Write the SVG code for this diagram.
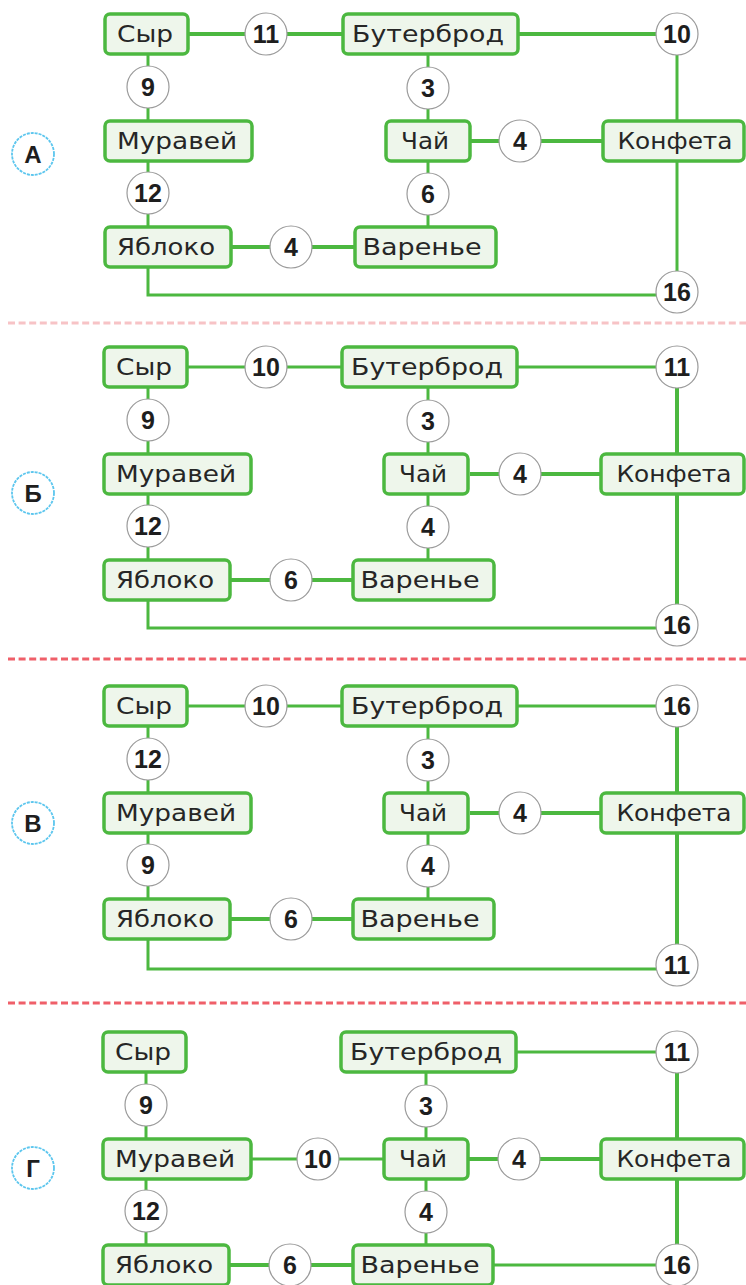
<svg xmlns="http://www.w3.org/2000/svg" width="746" height="1285" viewBox="0 0 746 1285">
<style>
.bg{fill:#ffffff}
.node rect{fill:#eef6eb;stroke:#4cb840;stroke-width:3.5}
.node text{font-family:"DejaVu Sans","Liberation Sans",sans-serif;font-size:22.5px;fill:#262626;text-anchor:middle}
.conn line,.conn path{stroke:#4cb840;stroke-width:3;fill:none}
.conn .thick{stroke-width:4}
.w circle{fill:#ffffff;stroke:#9a9a9a;stroke-width:1.2}
.w text{font-family:"Liberation Sans",Arial,sans-serif;font-weight:bold;font-size:25px;fill:#1e1e1e;text-anchor:middle}
.lab circle{fill:#ffffff;stroke:#5cc6ee;stroke-width:1.8;stroke-dasharray:3 1}
.lab text{font-family:"Liberation Sans",Arial,sans-serif;font-weight:bold;font-size:24px;fill:#1e1e1e;text-anchor:middle}
.sep{stroke-width:3;stroke-dasharray:7 3.6;fill:none}
</style>
<rect class="bg" x="0" y="0" width="746" height="1285"/>

<g id="separators">
<line class="sep" x1="8" y1="323" x2="746" y2="323" stroke="#f7c3c6"/>
<line class="sep" x1="8" y1="659" x2="746" y2="659" stroke="#ef5f69"/>
<line class="sep" x1="8" y1="1003" x2="746" y2="1003" stroke="#ef5f69"/>
</g>

<!-- ===== Section A ===== -->
<g id="section-A">
<g id="A-label" class="lab"><circle cx="33" cy="154" r="21"/><text x="33" y="163">А</text></g>
<g id="A-connectors" class="conn">
<line class="thick" x1="188" y1="34" x2="343" y2="34"/>
<line class="thick" x1="518" y1="34" x2="677" y2="34"/>
<line x1="677" y1="34" x2="677" y2="121"/>
<line x1="677" y1="161" x2="677" y2="292"/>
<line x1="148" y1="54" x2="148" y2="121"/>
<line x1="148" y1="161" x2="148" y2="227"/>
<path d="M148 267 V295 H677"/>
<line class="thick" x1="231" y1="247" x2="355" y2="247"/>
<line x1="428" y1="54" x2="428" y2="121"/>
<line x1="428" y1="161" x2="428" y2="227"/>
<line class="thick" x1="470" y1="141" x2="603" y2="141"/>
<g class="w">
<circle cx="266" cy="34" r="21"/><text x="266" y="43">11</text>
<circle cx="677" cy="34" r="21"/><text x="677" y="43">10</text>
<circle cx="148" cy="87" r="21"/><text x="148" y="96">9</text>
<circle cx="148" cy="193" r="21"/><text x="148" y="202">12</text>
<circle cx="291" cy="247" r="21"/><text x="291" y="256">4</text>
<circle cx="428" cy="88" r="21"/><text x="428" y="97">3</text>
<circle cx="520" cy="141" r="21"/><text x="520" y="150">4</text>
<circle cx="428" cy="194" r="21"/><text x="428" y="203">6</text>
<circle cx="677" cy="292" r="21"/><text x="677" y="301">16</text>
</g>
</g>
<g id="A-syr" class="node"><rect x="105" y="14" width="83" height="40" rx="5"/><text x="145" y="42" textLength="56" lengthAdjust="spacingAndGlyphs">Сыр</text></g>
<g id="A-buterbrod" class="node"><rect x="343" y="14" width="175" height="40" rx="5"/><text x="428" y="42" textLength="152" lengthAdjust="spacingAndGlyphs">Бутерброд</text></g>
<g id="A-muravey" class="node"><rect x="105" y="121" width="147" height="40" rx="5"/><text x="177" y="149" textLength="120" lengthAdjust="spacingAndGlyphs">Муравей</text></g>
<g id="A-chay" class="node"><rect x="386" y="121" width="84" height="40" rx="5"/><text x="425" y="149" textLength="48" lengthAdjust="spacingAndGlyphs">Чай</text></g>
<g id="A-konfeta" class="node"><rect x="603" y="121" width="141" height="40" rx="5"/><text x="675" y="149" textLength="115" lengthAdjust="spacingAndGlyphs">Конфета</text></g>
<g id="A-yabloko" class="node"><rect x="105" y="227" width="126" height="40" rx="5"/><text x="166" y="255" textLength="98" lengthAdjust="spacingAndGlyphs">Яблоко</text></g>
<g id="A-varenye" class="node"><rect x="355" y="227" width="141" height="40" rx="5"/><text x="422" y="255" textLength="119" lengthAdjust="spacingAndGlyphs">Варенье</text></g>
</g>

<!-- ===== Section Б ===== -->
<g id="section-B" transform="translate(0,333)">
<g id="B-label" class="lab"><circle cx="33" cy="160" r="21"/><text x="33" y="169">Б</text></g>
<g id="B-connectors" class="conn">
<line x1="188" y1="34" x2="343" y2="34"/>
<line x1="518" y1="34" x2="677" y2="34"/>
<line class="thick" x1="677" y1="34" x2="677" y2="121"/>
<line class="thick" x1="677" y1="161" x2="677" y2="292"/>
<line x1="148" y1="54" x2="148" y2="121"/>
<line x1="148" y1="161" x2="148" y2="227"/>
<path d="M148 267 V295 H677"/>
<line class="thick" x1="231" y1="247" x2="355" y2="247"/>
<line x1="428" y1="54" x2="428" y2="121"/>
<line x1="428" y1="161" x2="428" y2="227"/>
<line class="thick" x1="470" y1="141" x2="603" y2="141"/>
<g class="w">
<circle cx="266" cy="34" r="21"/><text x="266" y="43">10</text>
<circle cx="677" cy="34" r="21"/><text x="677" y="43">11</text>
<circle cx="148" cy="87" r="21"/><text x="148" y="96">9</text>
<circle cx="148" cy="193" r="21"/><text x="148" y="202">12</text>
<circle cx="291" cy="247" r="21"/><text x="291" y="256">6</text>
<circle cx="428" cy="88" r="21"/><text x="428" y="97">3</text>
<circle cx="520" cy="141" r="21"/><text x="520" y="150">4</text>
<circle cx="428" cy="194" r="21"/><text x="428" y="203">4</text>
<circle cx="677" cy="292" r="21"/><text x="677" y="301">16</text>
</g>
</g>
<g id="B-syr" class="node"><rect x="104" y="14" width="83" height="40" rx="5"/><text x="144" y="42" textLength="56" lengthAdjust="spacingAndGlyphs">Сыр</text></g>
<g id="B-buterbrod" class="node"><rect x="342" y="14" width="175" height="40" rx="5"/><text x="427" y="42" textLength="152" lengthAdjust="spacingAndGlyphs">Бутерброд</text></g>
<g id="B-muravey" class="node"><rect x="104" y="121" width="147" height="40" rx="5"/><text x="176" y="149" textLength="120" lengthAdjust="spacingAndGlyphs">Муравей</text></g>
<g id="B-chay" class="node"><rect x="384" y="121" width="84" height="40" rx="5"/><text x="423" y="149" textLength="48" lengthAdjust="spacingAndGlyphs">Чай</text></g>
<g id="B-konfeta" class="node"><rect x="601" y="121" width="143" height="40" rx="5"/><text x="674" y="149" textLength="115" lengthAdjust="spacingAndGlyphs">Конфета</text></g>
<g id="B-yabloko" class="node"><rect x="104" y="227" width="126" height="40" rx="5"/><text x="165" y="255" textLength="98" lengthAdjust="spacingAndGlyphs">Яблоко</text></g>
<g id="B-varenye" class="node"><rect x="353" y="227" width="141" height="40" rx="5"/><text x="420" y="255" textLength="119" lengthAdjust="spacingAndGlyphs">Варенье</text></g>
</g>

<!-- ===== Section В ===== -->
<g id="section-V" transform="translate(0,672)">
<g id="V-label" class="lab"><circle cx="33" cy="151" r="21"/><text x="33" y="160">В</text></g>
<g id="V-connectors" class="conn">
<line x1="188" y1="34" x2="343" y2="34"/>
<line x1="518" y1="34" x2="677" y2="34"/>
<line class="thick" x1="677" y1="34" x2="677" y2="121"/>
<line class="thick" x1="677" y1="161" x2="677" y2="292"/>
<line x1="148" y1="54" x2="148" y2="121"/>
<line x1="148" y1="161" x2="148" y2="227"/>
<path d="M148 267 V297 H677"/>
<line class="thick" x1="231" y1="247" x2="355" y2="247"/>
<line x1="428" y1="54" x2="428" y2="121"/>
<line x1="428" y1="161" x2="428" y2="227"/>
<line class="thick" x1="470" y1="141" x2="603" y2="141"/>
<g class="w">
<circle cx="266" cy="34" r="21"/><text x="266" y="43">10</text>
<circle cx="677" cy="34" r="21"/><text x="677" y="43">16</text>
<circle cx="148" cy="87" r="21"/><text x="148" y="96">12</text>
<circle cx="148" cy="193" r="21"/><text x="148" y="202">9</text>
<circle cx="291" cy="247" r="21"/><text x="291" y="256">6</text>
<circle cx="428" cy="88" r="21"/><text x="428" y="97">3</text>
<circle cx="520" cy="141" r="21"/><text x="520" y="150">4</text>
<circle cx="428" cy="194" r="21"/><text x="428" y="203">4</text>
<circle cx="677" cy="293" r="21"/><text x="677" y="302">11</text>
</g>
</g>
<g id="V-syr" class="node"><rect x="104" y="14" width="83" height="40" rx="5"/><text x="144" y="42" textLength="56" lengthAdjust="spacingAndGlyphs">Сыр</text></g>
<g id="V-buterbrod" class="node"><rect x="342" y="14" width="175" height="40" rx="5"/><text x="427" y="42" textLength="152" lengthAdjust="spacingAndGlyphs">Бутерброд</text></g>
<g id="V-muravey" class="node"><rect x="104" y="121" width="147" height="40" rx="5"/><text x="176" y="149" textLength="120" lengthAdjust="spacingAndGlyphs">Муравей</text></g>
<g id="V-chay" class="node"><rect x="384" y="121" width="84" height="40" rx="5"/><text x="423" y="149" textLength="48" lengthAdjust="spacingAndGlyphs">Чай</text></g>
<g id="V-konfeta" class="node"><rect x="601" y="121" width="143" height="40" rx="5"/><text x="674" y="149" textLength="115" lengthAdjust="spacingAndGlyphs">Конфета</text></g>
<g id="V-yabloko" class="node"><rect x="104" y="227" width="126" height="40" rx="5"/><text x="165" y="255" textLength="98" lengthAdjust="spacingAndGlyphs">Яблоко</text></g>
<g id="V-varenye" class="node"><rect x="353" y="227" width="141" height="40" rx="5"/><text x="420" y="255" textLength="119" lengthAdjust="spacingAndGlyphs">Варенье</text></g>
</g>

<!-- ===== Section Г ===== -->
<g id="section-G" transform="translate(0,1018)">
<g id="G-label" class="lab"><circle cx="33" cy="150" r="21"/><text x="33" y="159">Г</text></g>
<g id="G-connectors" class="conn">
<line x1="516" y1="34" x2="677" y2="34"/>
<line class="thick" x1="677" y1="34" x2="677" y2="121"/>
<line class="thick" x1="677" y1="161" x2="677" y2="247"/>
<line x1="146" y1="54" x2="146" y2="121"/>
<line x1="146" y1="161" x2="146" y2="227"/>
<line x1="251" y1="141" x2="384" y2="141"/>
<line class="thick" x1="229" y1="247" x2="353" y2="247"/>
<line x1="426" y1="54" x2="426" y2="121"/>
<line x1="426" y1="161" x2="426" y2="227"/>
<line class="thick" x1="468" y1="141" x2="601" y2="141"/>
<line x1="493" y1="247" x2="677" y2="247"/>
<g class="w">
<circle cx="677" cy="34" r="21"/><text x="677" y="43">11</text>
<circle cx="146" cy="87" r="21"/><text x="146" y="96">9</text>
<circle cx="318" cy="141" r="21"/><text x="318" y="150">10</text>
<circle cx="146" cy="193" r="21"/><text x="146" y="202">12</text>
<circle cx="290" cy="247" r="21"/><text x="290" y="256">6</text>
<circle cx="426" cy="88" r="21"/><text x="426" y="97">3</text>
<circle cx="519" cy="141" r="21"/><text x="519" y="150">4</text>
<circle cx="426" cy="194" r="21"/><text x="426" y="203">4</text>
<circle cx="677" cy="247" r="21"/><text x="677" y="256">16</text>
</g>
</g>
<g id="G-syr" class="node"><rect x="103" y="14" width="83" height="40" rx="5"/><text x="143" y="42" textLength="56" lengthAdjust="spacingAndGlyphs">Сыр</text></g>
<g id="G-buterbrod" class="node"><rect x="341" y="14" width="175" height="40" rx="5"/><text x="426" y="42" textLength="152" lengthAdjust="spacingAndGlyphs">Бутерброд</text></g>
<g id="G-muravey" class="node"><rect x="103" y="121" width="148" height="40" rx="5"/><text x="175" y="149" textLength="120" lengthAdjust="spacingAndGlyphs">Муравей</text></g>
<g id="G-chay" class="node"><rect x="384" y="121" width="84" height="40" rx="5"/><text x="423" y="149" textLength="48" lengthAdjust="spacingAndGlyphs">Чай</text></g>
<g id="G-konfeta" class="node"><rect x="601" y="121" width="143" height="40" rx="5"/><text x="674" y="149" textLength="115" lengthAdjust="spacingAndGlyphs">Конфета</text></g>
<g id="G-yabloko" class="node"><rect x="103" y="227" width="126" height="40" rx="5"/><text x="164" y="255" textLength="98" lengthAdjust="spacingAndGlyphs">Яблоко</text></g>
<g id="G-varenye" class="node"><rect x="353" y="227" width="140" height="40" rx="5"/><text x="420" y="255" textLength="119" lengthAdjust="spacingAndGlyphs">Варенье</text></g>
</g>
</svg>
